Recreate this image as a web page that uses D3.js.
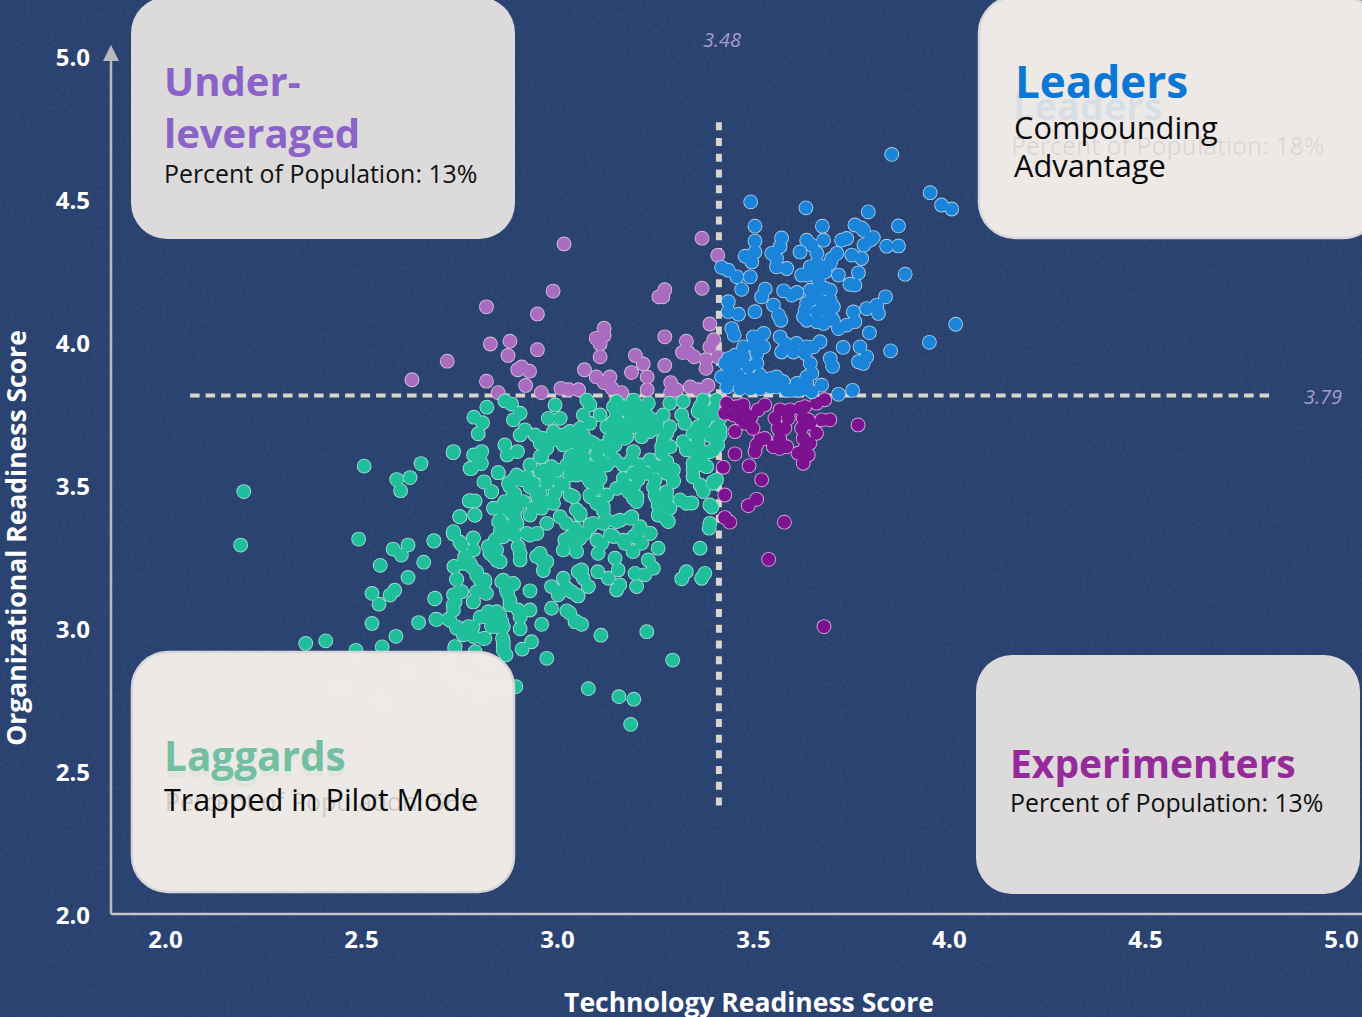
<!DOCTYPE html>
<html>
<head>
<meta charset="utf-8">
<script src="https://cdn.jsdelivr.net/npm/d3@7"></script>
<style>
  html, body { margin: 0; padding: 0; background: #2a4170; overflow: hidden; }
  svg { display: block; font-family: "Open Sans", "Noto Sans", sans-serif; }
</style>
</head>
<body>
<svg id="chart" width="1362" height="1017"></svg>
<script>
// Tick labels on both axes
const tickValues = [2.0, 2.5, 3.0, 3.5, 4.0, 4.5, 5.0];

// Quadrant thresholds: where the lines sit, and what their labels say
const techCut = 3.413, orgCut = 3.82;
const techCutLabel = "3.48", orgCutLabel = "3.79";

// [technology score, organizational score] for each respondent
const underLeveraged = [
  [3.018,4.35],[2.99,4.185],[2.82,4.13],[2.95,4.105],[2.83,4.0],[2.88,4.01],[2.95,3.98],[2.875,3.96],
  [2.72,3.94],[2.91,3.92],[2.9,3.91],[2.93,3.905],[2.63,3.875],[2.82,3.87],[2.92,3.855],[2.85,3.83],
  [3.12,4.055],[3.12,4.03],[3.1,4.02],[3.11,4.0],[3.11,3.955],[3.2,3.96],[3.07,3.91],[3.19,3.9],
  [3.22,3.93],[3.23,3.885],[3.1,3.885],[3.135,3.885],[3.12,3.865],[3.14,3.845],[3.165,3.83],[3.23,3.84],
  [2.96,3.83],[3.01,3.845],[3.03,3.84],[3.055,3.84],[3.26,4.165],[3.37,4.37],[3.41,4.31],[3.275,4.19],
  [3.27,4.165],[3.37,4.195],[3.39,4.07],[3.275,4.025],[3.275,3.925],[3.33,4.01],[3.4,4.015],[3.39,3.99],
  [3.335,3.97],[3.32,3.97],[3.35,3.955],[3.38,3.945],[3.38,3.915],[3.41,3.955],[3.29,3.865],[3.29,3.83],
  [3.34,3.85],[3.385,3.855],[3.37,3.83],[3.36,3.84],[3.305,3.84]
];

const leaders = [
  [3.854,4.663],[3.952,4.529],[3.981,4.486],[4.007,4.472],[3.494,4.497],[3.635,4.476],[3.794,4.462],[3.505,4.412],
  [3.677,4.412],[3.871,4.413],[3.76,4.416],[3.777,4.406],[3.505,4.36],[3.573,4.371],[3.68,4.363],[3.807,4.372],
  [3.739,4.369],[3.726,4.363],[3.841,4.342],[3.871,4.343],[3.783,4.346],[3.569,4.34],[3.637,4.363],[3.62,4.322],
  [3.65,4.346],[3.663,4.317],[3.548,4.317],[3.56,4.299],[3.493,4.305],[3.48,4.307],[3.505,4.322],[3.497,4.287],
  [3.714,4.317],[3.701,4.299],[3.752,4.311],[3.777,4.299],[3.888,4.244],[3.56,4.27],[3.586,4.264],[3.68,4.27],
  [3.42,4.268],[3.437,4.258],[3.459,4.235],[3.493,4.235],[3.471,4.191],[3.624,4.241],[3.654,4.247],[3.684,4.252],
  [3.667,4.223],[3.718,4.241],[3.769,4.249],[3.747,4.209],[3.76,4.206],[3.531,4.192],[3.522,4.165],[3.578,4.186],
  [3.599,4.171],[3.612,4.18],[3.663,4.188],[3.684,4.194],[3.697,4.153],[3.671,4.153],[3.646,4.153],[3.437,4.148],
  [3.437,4.113],[3.463,4.104],[3.505,4.113],[3.552,4.136],[3.565,4.101],[3.571,4.083],[3.633,4.118],[3.663,4.112],
  [3.688,4.112],[3.637,4.083],[3.663,4.078],[3.705,4.083],[3.718,4.054],[3.756,4.112],[3.76,4.078],[3.739,4.066],
  [3.79,4.124],[3.816,4.136],[3.838,4.165],[3.82,4.107],[4.017,4.069],[3.797,4.039],[3.95,4.006],[3.851,3.976],
  [3.446,4.054],[3.452,4.031],[3.527,4.037],[3.501,4.025],[3.527,3.99],[3.569,4.025],[3.582,4.002],[3.611,4.002],
  [3.573,3.972],[3.603,3.972],[3.633,3.967],[3.671,4.008],[3.654,3.99],[3.73,3.988],[3.773,3.99],[3.79,3.955],
  [3.769,3.938],[3.697,3.949],[3.703,3.922],[3.646,3.932],[3.65,3.897],[3.476,3.99],[3.454,3.961],[3.437,3.949],
  [3.476,3.955],[3.51,3.967],[3.488,3.92],[3.441,3.908],[3.42,3.885],[3.463,3.891],[3.493,3.879],[3.518,3.891],
  [3.544,3.879],[3.577,3.868],[3.612,3.862],[3.637,3.862],[3.675,3.856],[3.467,3.844],[3.518,3.844],[3.599,3.838],
  [3.65,3.833],[3.433,3.85],[3.544,3.85],[3.493,3.844],[3.718,3.824],[3.754,3.838],[3.56,3.885],[3.629,3.844],
  // denser parts of the cluster
  [3.646,4.188],[3.697,4.188],[3.637,4.142],[3.68,4.13],[3.705,4.13],[3.629,4.095],[3.68,4.072],[3.701,4.089],
  [3.663,4.282],[3.646,4.27],[3.697,4.282],[3.637,4.241],[3.459,3.932],[3.429,3.932],[3.51,3.932],[3.535,3.862],
  [3.56,3.85],[3.467,3.873],[3.493,3.862],[3.514,3.862],[3.442,3.873],[3.616,3.838],[3.637,3.885],[3.586,3.838],
  [3.518,4.025],[3.501,3.996],[3.637,3.99],[3.781,3.932],[3.782,4.398],[3.799,4.363]
];

const experimenters = [
  [3.433,3.793],[3.428,3.758],[3.458,3.781],[3.479,3.758],[3.496,3.746],[3.53,3.787],[3.513,3.77],[3.454,3.694],
  [3.5,3.705],[3.518,3.665],[3.505,3.624],[3.454,3.616],[3.424,3.569],[3.49,3.574],[3.522,3.525],[3.428,3.472],
  [3.509,3.457],[3.488,3.435],[3.428,3.393],[3.441,3.377],[3.58,3.377],[3.54,3.247],[3.681,3.012],[3.768,3.717],
  [3.696,3.735],[3.675,3.735],[3.662,3.688],[3.641,3.735],[3.624,3.705],[3.628,3.67],[3.645,3.653],[3.615,3.618],
  [3.641,3.612],[3.628,3.583],[3.594,3.77],[3.62,3.775],[3.59,3.74],[3.556,3.74],[3.564,3.705],[3.581,3.705],
  [3.568,3.67],[3.577,3.641],[3.552,3.641],[3.53,3.67],[3.683,3.805],[3.662,3.793],[3.632,3.781],[3.467,3.74],
  [3.475,3.787],[3.45,3.752],[3.479,3.723],[3.509,3.647],[3.568,3.635],[3.586,3.641],[3.569,3.77],[3.628,3.74],
  [3.645,3.723],[3.632,3.635]
];

const laggards = [
  // sparse left side
  [2.201,3.484],[2.193,3.297],[2.508,3.573],[2.653,3.582],[2.591,3.526],[2.625,3.533],[2.601,3.487],[2.735,3.62],
  [2.795,3.606],[2.778,3.565],[2.807,3.582],[2.85,3.55],[2.814,3.518],[2.833,3.483],[2.778,3.452],[2.79,3.402],
  [2.752,3.396],[2.494,3.318],[2.686,3.311],[2.735,3.34],[2.752,3.308],[2.786,3.322],[2.582,3.283],[2.62,3.297],
  [2.603,3.262],[2.549,3.226],[2.66,3.237],[2.62,3.184],[2.738,3.221],[2.744,3.177],[2.765,3.256],[2.782,3.221],
  [2.795,3.192],[2.816,3.168],[2.82,3.128],[2.786,3.098],[2.75,3.133],[2.735,3.087],[2.688,3.109],[2.528,3.128],
  [2.586,3.139],[2.574,3.122],[2.546,3.09],[2.528,3.023],[2.647,3.026],[2.693,3.037],[2.727,3.034],[2.744,3.011],
  [2.773,2.993],[2.812,2.97],[2.786,3.011],[2.589,2.978],[2.359,2.953],[2.41,2.962],[2.487,2.929],[2.554,2.941],
  [2.739,2.935],[2.863,2.959],[2.863,2.929],[2.829,3.268],[2.846,3.244],[2.863,3.326],[2.88,3.361],[2.863,3.174],
  [2.888,3.163],[2.854,3.052],[2.837,3.034],[2.82,3.046],[2.863,3.011],[2.871,3.139],[2.88,3.104],[2.892,3.477],
  [2.888,3.524],[2.871,3.431],[2.854,3.384],[2.892,3.396],
  // upper middle
  [2.821,3.779],[2.788,3.744],[2.81,3.725],[2.799,3.686],[2.736,3.624],[2.808,3.624],[2.787,3.612],[2.804,3.589],
  [2.782,3.565],[2.85,3.55],[2.814,3.517],[2.833,3.484],[2.776,3.451],[2.791,3.451],[2.791,3.402],[2.752,3.396],
  [2.884,3.79],[2.867,3.801],[2.906,3.758],[2.889,3.735],[2.918,3.7],[2.906,3.682],[2.944,3.682],[2.867,3.647],
  [2.873,3.612],[2.899,3.624],[2.995,3.787],[2.978,3.74],[3.008,3.74],[3.033,3.694],[2.991,3.694],[2.974,3.635],
  [2.961,3.606],[3.016,3.647],[3.042,3.612],[2.986,3.571],[3.025,3.577],[3.05,3.542],[2.957,3.554],[2.923,3.536],
  [2.897,3.542],[2.876,3.513],[2.931,3.501],[2.974,3.513],[3.016,3.507],[2.889,3.472],[2.867,3.449],[2.914,3.449],
  [2.952,3.461],[2.995,3.478],[3.033,3.472],[2.838,3.426],[2.88,3.414],[2.931,3.402],[2.961,3.426],[2.863,3.367],
  [2.893,3.373],[2.974,3.373],[3.008,3.396],[3.024,3.373],[3.05,3.42],[3.046,3.356],[2.855,3.344],[2.736,3.344],
  [2.889,3.338],
  // bottom left
  [2.686,3.312],[2.736,3.336],[2.787,3.321],[2.757,3.298],[2.765,3.257],[2.778,3.233],[2.737,3.222],[2.795,3.204],
  [2.744,3.177],[2.816,3.175],[2.812,3.134],[2.787,3.099],[2.757,3.134],[2.74,3.099],[2.736,3.07],[2.689,3.111],
  [2.691,3.038],[2.723,3.038],[2.744,3.006],[2.774,3.012],[2.761,2.983],[2.787,2.977],[2.816,2.971],[2.74,2.942],
  [2.791,2.924],[2.825,3.292],[2.842,3.315],[2.859,3.332],[2.838,3.257],[2.855,3.239],[2.893,3.332],[2.901,3.292],
  [2.906,3.245],[2.931,3.332],[2.957,3.268],[2.974,3.239],[2.965,3.208],[2.948,3.257],[2.859,3.169],[2.889,3.161],
  [2.874,3.128],[2.931,3.137],[2.88,3.088],[2.901,3.07],[2.931,3.07],[2.906,3.045],[2.906,3.004],[2.961,3.02],
  [2.935,2.959],[2.911,2.933],[2.974,2.901],[2.986,3.076],[3.025,3.067],[3.046,3.029],[2.986,3.152],[3.016,3.181],
  [3.025,3.146],[3.003,3.123],[3.05,3.123],[3.02,3.315],[3.016,3.28],[3.05,3.274],[3.054,3.327],[3.054,3.204],
  [2.804,3.045],[2.825,3.064],[2.846,3.064],[2.859,3.029],[2.842,3.035],[2.861,2.971],[2.863,2.942],[2.87,2.913],
  [2.895,2.802],
  // behind the Laggards card
  [2.45,2.8],[2.55,2.75],[2.62,2.85],[2.72,2.87],[2.75,2.82],[2.8,2.78],[2.83,2.88],[2.85,2.8],
  // dense middle right
  [3.076,3.804],[3.152,3.799],[3.195,3.804],[3.233,3.793],[3.288,3.793],[3.322,3.799],[3.373,3.804],[3.407,3.804],
  [3.067,3.752],[3.11,3.752],[3.152,3.758],[3.195,3.764],[3.229,3.752],[3.271,3.752],[3.318,3.752],[3.36,3.764],
  [3.39,3.752],[3.416,3.746],[3.059,3.705],[3.127,3.711],[3.169,3.711],[3.212,3.711],[3.254,3.705],[3.288,3.711],
  [3.36,3.711],[3.407,3.705],[3.05,3.653],[3.084,3.659],[3.135,3.67],[3.173,3.67],[3.216,3.676],[3.271,3.665],
  [3.322,3.659],[3.36,3.659],[3.407,3.653],[3.059,3.612],[3.101,3.612],[3.135,3.624],[3.195,3.624],[3.267,3.618],
  [3.352,3.624],[3.39,3.624],[3.046,3.571],[3.084,3.571],[3.127,3.577],[3.169,3.577],[3.212,3.577],[3.254,3.571],
  [3.297,3.56],[3.347,3.583],[3.382,3.571],[3.084,3.519],[3.11,3.53],[3.169,3.53],[3.207,3.525],[3.25,3.525],
  [3.297,3.519],[3.347,3.536],[3.365,3.507],[3.407,3.525],[3.084,3.472],[3.127,3.472],[3.182,3.484],[3.25,3.472],
  [3.28,3.484],[3.314,3.455],[3.33,3.443],[3.39,3.437],[3.05,3.42],[3.118,3.431],[3.203,3.449],[3.258,3.437],
  [3.288,3.426],[3.093,3.373],[3.186,3.391],[3.258,3.402],[3.28,3.385],[3.39,3.373],[3.059,3.402],
  // lower middle
  [3.059,3.408],[3.118,3.416],[3.263,3.403],[3.284,3.379],[3.388,3.356],[3.365,3.286],[3.33,3.204],[3.318,3.179],
  [3.377,3.198],[3.369,3.181],[3.084,3.368],[3.118,3.373],[3.152,3.379],[3.19,3.391],[3.059,3.321],[3.071,3.338],
  [3.046,3.298],[3.114,3.303],[3.144,3.327],[3.173,3.303],[3.194,3.274],[3.105,3.268],[3.207,3.344],[3.216,3.303],
  [3.237,3.338],[3.258,3.286],[3.233,3.245],[3.246,3.216],[3.224,3.193],[3.199,3.198],[3.148,3.251],[3.156,3.21],
  [3.131,3.181],[3.104,3.204],[3.063,3.21],[3.067,3.181],[3.08,3.152],[3.16,3.158],[3.152,3.14],[3.203,3.152],
  [3.054,3.119],[3.037,3.134],[3.05,3.029],[3.063,3.02],[3.033,3.059],[3.112,2.982],[3.229,2.994],[3.295,2.895],
  [3.08,2.795],[3.158,2.767],[3.196,2.758],[3.188,2.67],
  // along the vertical line
  [3.395,3.43],[3.344,3.444],[3.398,3.518],[3.372,3.577],[3.39,3.68],[3.41,3.647],[3.416,3.74],[3.416,3.7],
  // centre of the cloud
  [2.957,3.652],[2.991,3.664],[3.025,3.652],[3.059,3.652],[3.093,3.652],[2.957,3.606],[3.034,3.606],[3.068,3.606],
  [3.11,3.582],[2.966,3.559],[3.0,3.559],[3.034,3.559],[3.068,3.571],[3.102,3.548],[2.94,3.513],[2.974,3.524],
  [3.008,3.513],[3.076,3.536],[3.102,3.501],[3.085,3.466],[3.11,3.443],[2.957,3.478],[2.991,3.443],[3.042,3.466],
  [3.144,3.781],[3.178,3.769],[3.212,3.757],[3.161,3.722],[3.195,3.711],[3.229,3.711],[3.178,3.676],[3.365,3.781],
  [3.399,3.769],[3.356,3.699],[3.39,3.687],[3.348,3.641],[3.399,3.629],[3.255,3.722],[3.289,3.641],[3.28,3.548],
  [3.297,3.524],[3.255,3.571],[3.212,3.548],[3.178,3.501],[3.204,3.466],
  // between the rows of the mass
  [3.084,3.787],[3.173,3.781],[3.212,3.781],[3.369,3.787],[3.084,3.723],[3.144,3.729],[3.186,3.735],[3.216,3.735],
  [3.246,3.735],[3.326,3.723],[3.377,3.729],[3.067,3.682],[3.152,3.688],[3.237,3.694],[3.28,3.688],[3.347,3.688],
  [3.373,3.694],[3.416,3.682],[3.067,3.635],[3.114,3.641],[3.148,3.647],[3.267,3.641],[3.33,3.63],[3.365,3.63],
  [3.067,3.589],[3.114,3.589],[3.148,3.595],[3.19,3.595],[3.237,3.595],[3.28,3.589],[3.369,3.595],[3.059,3.548],
  [3.105,3.548],[3.195,3.548],[3.229,3.548],[3.275,3.554],[3.347,3.56],[3.101,3.495],[3.152,3.495],[3.195,3.5],
  [3.246,3.5],[3.373,3.484],[3.399,3.513],[3.101,3.443],[3.195,3.461],[3.254,3.461],[3.28,3.461],
  // left block and lower arcs
  [2.965,3.67],[3.016,3.682],[3.05,3.67],[2.931,3.577],[2.91,3.525],[2.982,3.53],[3.033,3.542],[2.948,3.472],
  [2.982,3.449],[2.94,3.426],[2.897,3.426],[2.855,3.426],[2.88,3.449],[3.127,3.384],[3.161,3.384],[3.191,3.396],
  [3.212,3.361],[3.238,3.338],[3.085,3.361],[3.059,3.326],[3.034,3.326],[3.102,3.314],[3.136,3.332],[3.17,3.314],
  [3.195,3.326],[2.88,3.501],[2.859,3.431],[2.898,3.443],[2.851,3.378],[2.898,3.373],[2.923,3.338],[2.949,3.338],
  [2.88,3.349],[2.787,3.28],[2.761,3.233],[2.804,3.175],[2.795,3.134],[2.736,3.123],[2.829,3.28],[2.846,3.28],
  [2.855,3.035],[2.833,3.012],[2.846,3.012],[2.829,3.047],[2.778,2.989],[2.906,3.268],[2.965,3.239],[3.016,3.14]
];

const width = 1362, height = 1017;

const svg = d3.select("#chart");

// Scales, pinned to where the ticks sit in the picture
const x = d3.scaleLinear().domain([2, 5]).range([165, 1341]);
const y = d3.scaleLinear().domain([2, 5]).range([916, 58]);

// Paper-like background
const defs = svg.append("defs");
const grain = defs.append("filter").attr("id", "grain").attr("x", 0).attr("y", 0).attr("width", "100%").attr("height", "100%");
grain.append("feTurbulence").attr("type", "fractalNoise").attr("baseFrequency", 0.3).attr("numOctaves", 2).attr("seed", 4);
grain.append("feColorMatrix").attr("values", "0 0 0 0 0.09  0 0 0 0 0.15  0 0 0 0 0.3  0 0 0 -1.1 0.62");

svg.append("rect").attr("width", width).attr("height", height).attr("fill", "#2a4270");
svg.append("rect").attr("width", width).attr("height", height).attr("filter", "url(#grain)").attr("opacity", 0.35);

// Axis lines
const axisX = 111, axisY = 914;
svg.append("line")
  .attr("x1", axisX).attr("x2", width).attr("y1", axisY).attr("y2", axisY)
  .attr("stroke", "#c4c6cc").attr("stroke-width", 2.5);
svg.append("line")
  .attr("x1", axisX).attr("x2", axisX).attr("y1", axisY).attr("y2", 60)
  .attr("stroke", "#b8babd").attr("stroke-width", 2.5);
svg.append("path")
  .attr("d", `M${axisX - 8},61 L${axisX},45 L${axisX + 8},61 Z`)
  .attr("fill", "#b8babd");

// Tick labels through d3 axes, no lines of their own
const xAxis = svg.append("g")
  .attr("transform", "translate(0,931)")
  .call(d3.axisBottom(x).tickValues(tickValues).tickFormat(d3.format(".1f")).tickSize(0).tickPadding(0));
const yAxis = svg.append("g")
  .attr("transform", "translate(90,0)")
  .call(d3.axisLeft(y).tickValues(tickValues).tickFormat(d3.format(".1f")).tickSize(0).tickPadding(0));
xAxis.select(".domain").remove();
yAxis.select(".domain").remove();
svg.selectAll(".tick text")
  .attr("fill", "#fff")
  .style("font-family", '"Open Sans", sans-serif')
  .style("font-size", "24px")
  .style("font-weight", 700);
xAxis.selectAll(".tick text").attr("dy", "0.7em");

// Axis titles
svg.append("text")
  .attr("x", 749).attr("y", 1012)
  .attr("text-anchor", "middle")
  .attr("fill", "#fff")
  .style("font-size", "26.5px").style("font-weight", 700)
  .text("Technology Readiness Score");
svg.append("text")
  .attr("transform", "translate(26,538) rotate(-90)")
  .attr("text-anchor", "middle")
  .attr("fill", "#fff")
  .style("font-size", "26.5px").style("font-weight", 700)
  .text("Organizational Readiness Score");

// Threshold lines
svg.append("line")
  .attr("x1", x(techCut)).attr("x2", x(techCut)).attr("y1", y(4.775)).attr("y2", y(2.37))
  .attr("stroke", "#d9d5cc").attr("stroke-width", 6).attr("stroke-dasharray", "8 7.7");
svg.append("line")
  .attr("x1", x(2.064)).attr("x2", x(4.824)).attr("y1", y(orgCut)).attr("y2", y(orgCut))
  .attr("stroke", "#d9d5cc").attr("stroke-width", 4).attr("stroke-dasharray", "9.5 6");

svg.append("text")
  .attr("x", 722).attr("y", 47).attr("text-anchor", "middle")
  .attr("fill", "#a99bcb").style("font-size", "20px").style("font-style", "italic")
  .text(techCutLabel);
svg.append("text")
  .attr("x", 1323).attr("y", 404).attr("text-anchor", "middle")
  .attr("fill", "#a99bcb").style("font-size", "20px").style("font-style", "italic")
  .text(orgCutLabel);

// Each series: halo pass underneath so only the outer edge of a clump shows light
function drawDots(data, fill, halo) {
  const g = svg.append("g");
  g.selectAll("circle.halo").data(data).enter().append("circle")
    .attr("class", "halo")
    .attr("cx", (d) => x(d[0])).attr("cy", (d) => y(d[1]))
    .attr("r", 7.4)
    .attr("fill", halo);
  g.selectAll("circle.dot").data(data).enter().append("circle")
    .attr("class", "dot")
    .attr("cx", (d) => x(d[0])).attr("cy", (d) => y(d[1]))
    .attr("r", 6.5)
    .attr("fill", fill);
}

drawDots(underLeveraged, "#a96cc0", "#d9bfdc");
drawDots(laggards, "#1fbf9b", "#9fe0d2");
drawDots(experimenters, "#7c1290", "#dca6dc");
drawDots(leaders, "#1a84da", "#a5cfe8");

// Quadrant cards
function drawCard(left, top, w, h, fill, border) {
  svg.append("rect")
    .attr("x", left).attr("y", top).attr("width", w).attr("height", h)
    .attr("rx", 36).attr("ry", 36)
    .attr("fill", fill).attr("fill-opacity", 0.985)
    .attr("stroke", border).attr("stroke-width", border === "none" ? 0 : 2.5);
}
function cardText(str, px, py, size, weight, fill, opacity) {
  svg.append("text")
    .attr("x", px).attr("y", py)
    .attr("fill", fill).attr("fill-opacity", opacity === undefined ? 1 : opacity)
    .style("font-size", size + "px").style("font-weight", weight)
    .text(str);
}

drawCard(131, -3, 384, 242, "#dfdcdb", "none");
cardText("Under-", 164, 96, 40, 700, "#8a62c8");
cardText("leveraged", 164, 148, 40, 700, "#8a62c8");
cardText("Percent of Population: 13%", 164, 183, 24.9, 400, "#111");

drawCard(979, -3, 400, 241, "#f1ece9", "#d8d6d8");
cardText("Leaders", 1013, 120, 38, 700, "#0a78d4", 0.1);
cardText("Percent of Population: 18%", 1011, 155, 24.9, 400, "#111", 0.09);
cardText("Leaders", 1015, 98, 44, 700, "#0a78d4");
cardText("Compounding", 1014, 139, 30.8, 400, "#0a0a0a");
cardText("Advantage", 1014, 177, 30.8, 400, "#0a0a0a");

drawCard(132, 652, 382, 240, "#f1ece9", "#d8d6d8");
cardText("Laggards", 164, 777, 40.5, 700, "#72bfa3", 0.1);
cardText("Percent of Population: 56%", 165, 811, 25, 400, "#111", 0.16);
cardText("Laggards", 164, 771, 40.5, 700, "#72bfa3");
cardText("Trapped in Pilot Mode", 164, 811, 30.5, 400, "#0a0a0a");

drawCard(976, 655, 384, 239, "#dfdcdb", "none");
cardText("Experimenters", 1010, 778, 39, 700, "#962a9a");
cardText("Percent of Population: 13%", 1010, 812, 24.9, 400, "#111");
</script>
</body>
</html>
